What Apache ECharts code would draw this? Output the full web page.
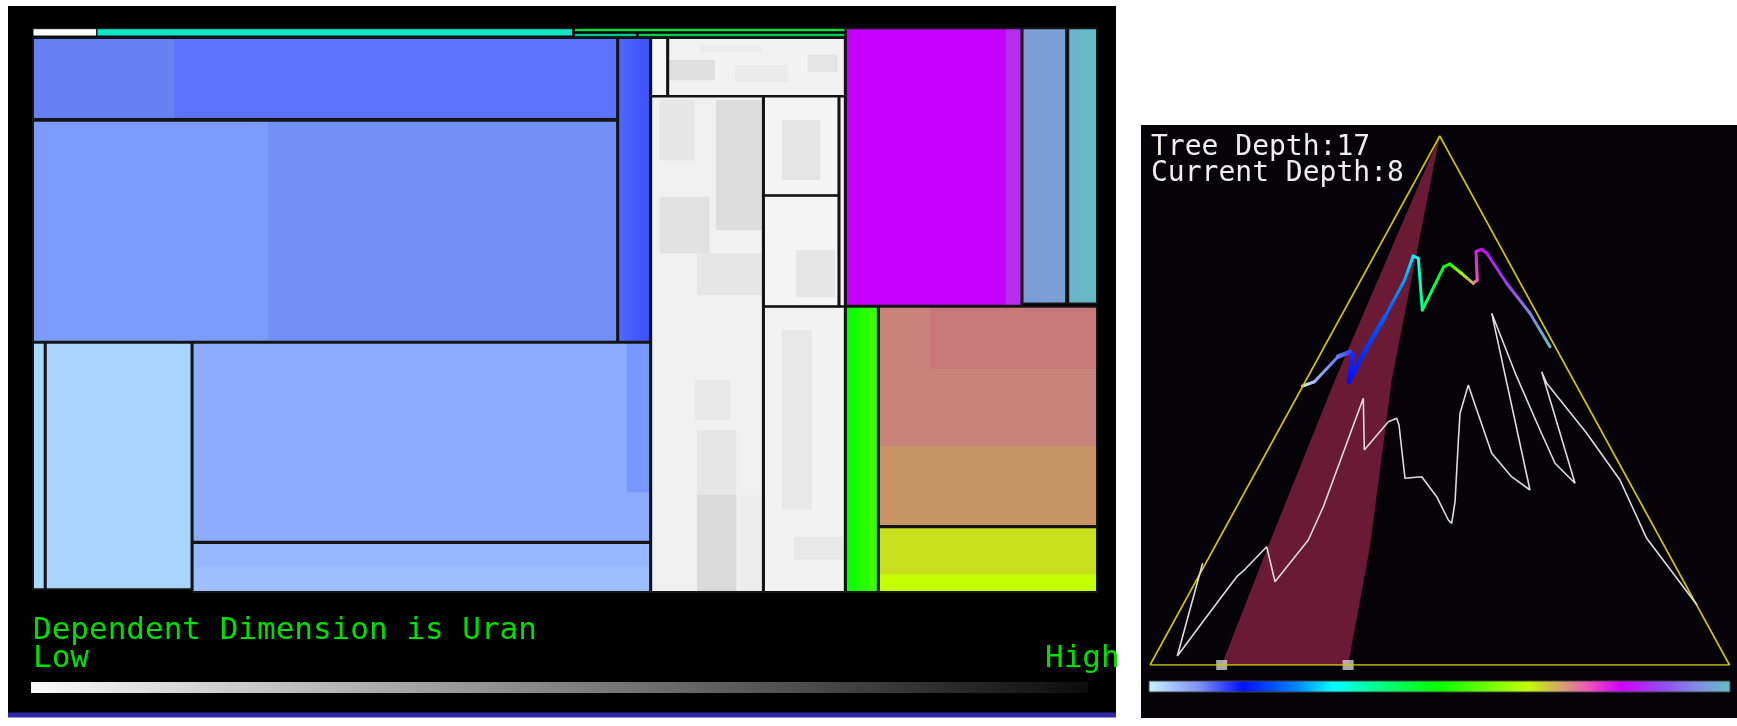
<!DOCTYPE html>
<html>
<head>
<meta charset="utf-8">
<script src="https://cdn.jsdelivr.net/npm/echarts@6/dist/echarts.min.js"></script>
<style>
html, body { margin: 0; padding: 0; background: #ffffff; }
#main { width: 1737px; height: 726px; }
</style>
</head>
<body>
<div id="main"></div>
<script>
// mosaic cells in percent of the mosaic area: [x0, x1, y0, y1]
var cells = [
    [0, 6.0, 0.07, 1.37], [6.0, 50.7, 0.07, 1.37],
    [50.9, 76.3, 0, 0.6], [50.9, 56.7, 0.89, 1.49], [56.9, 76.3, 0.89, 1.49],
    [0, 54.9, 1.7, 16.1], [0, 54.9, 16.4, 55.6], [55.0, 58.0, 1.7, 55.6],
    [0, 1.1, 55.8, 99.5], [1.2, 14.9, 55.8, 99.5],
    [15.0, 58.0, 55.8, 91.1], [15.0, 58.0, 91.3, 100],
    [58.1, 59.6, 1.7, 12.0], [59.7, 76.3, 1.7, 12.0],
    [58.1, 68.6, 12.1, 100],
    [68.7, 75.7, 12.1, 29.6], [68.7, 75.7, 29.7, 49.3], [75.8, 76.3, 12.1, 49.3],
    [68.7, 76.3, 49.4, 100],
    [76.4, 92.9, 0, 49.2], [93.0, 97.1, 0, 48.8], [97.3, 100, 0, 48.8],
    [76.4, 79.4, 49.4, 100], [79.5, 100, 49.4, 88.3], [79.5, 100, 88.5, 100]
];
var cellColors = [
    '#ffffff', '#12e6c6',
    '#00e040', '#00c890', '#00d050',
    '#5b73fe', '#7390f9', '#5068f8>#3c50ff',
    '#a8d8ff', '#a8d4ff',
    '#8cadff', '#96b8ff',
    '#f6f6f6', '#f2f2f2',
    '#f0f0f0',
    '#f4f4f4', '#f4f4f4', '#f4f4f4',
    '#f2f2f2',
    '#c400fc', '#7c9cd8>#7aa2d2', '#6cb4cc>#66bcc8',
    '#00ff00>#44ff00', '#c8847a', '#c8e020'
];
// shading patches inside the cells: [x0, x1, y0, y1]
var patches = [
    [0, 13.3, 1.7, 16.1], [0, 22.1, 16.4, 55.6], [55.8, 58.0, 55.8, 82.3], [15.0, 58.0, 95.6, 100],
    [59.7, 64.1, 5.6, 9.2], [66.0, 71.0, 6.5, 9.5], [72.8, 75.6, 4.7, 7.8], [62.7, 68.5, 3.0, 4.2],
    [58.9, 62.2, 12.7, 23.4], [64.2, 68.5, 12.7, 35.8], [58.9, 63.6, 29.9, 39.9], [62.4, 68.5, 39.9, 47.3],
    [62.2, 65.5, 62.4, 69.5], [62.4, 66.1, 71.3, 82.8], [62.4, 66.1, 82.8, 100], [66.4, 68.5, 82.8, 100],
    [70.4, 74.0, 16.3, 26.9], [71.7, 75.4, 39.3, 47.7], [70.4, 73.2, 53.5, 85.4], [71.5, 76.3, 90.2, 94.3],
    [91.4, 92.9, 0, 49.2], [84.3, 100, 49.4, 60.4], [79.5, 100, 74.2, 88.3], [79.5, 100, 96.9, 100]
];
var patchColors = [
    '#6781f5', '#7b9bfd', '#7896ff', '#9cc0ff',
    '#e0e0e0', '#ebebeb', '#e4e4e4', '#ececec',
    '#e6e6e6', '#dddddd', '#e2e2e2', '#e6e6e6',
    '#e8e8e8', '#e6e6e6', '#dadada', '#ececec',
    '#e4e4e4', '#e6e6e6', '#e8e8e8', '#e8e8e8',
    '#b82cf0', '#c77878', '#c89463', '#c4ff00'
];

// right panel, triangle space: u across the base, v up to the apex
var triangleU = [0, 0.5, 1, 0];
var triangleV = [0, 1, 0, 0];
var wedgeU = [0.1237, 0.2036, 0.3192, 0.5, 0.4171, 0.3796, 0.3419];
var wedgeV = [0, 0.2236, 0.5388, 1, 0.5388, 0.2236, 0];
var sliderU = [0.1237, 0.3419];
var whiteU = [0.0908, 0.0471, 0.1151, 0.1497, 0.1639, 0.2014, 0.2157, 0.2732, 0.2991, 0.3681, 0.3698,
    0.4112, 0.4257, 0.4297, 0.4400, 0.4689, 0.4947, 0.5148, 0.5206, 0.5264, 0.5320, 0.5350, 0.5493,
    0.5580, 0.5897, 0.6239, 0.6557, 0.5897, 0.6011, 0.6328, 0.6730, 0.6989, 0.7334, 0.6759, 0.6846,
    0.7536, 0.8110, 0.8571, 0.9439];
var whiteV = [0.1922, 0.0170, 0.1166, 0.1669, 0.1809, 0.2236, 0.1575, 0.2363, 0.2992, 0.5042, 0.4064,
    0.4599, 0.4664, 0.4537, 0.3529, 0.3560, 0.3181, 0.2741, 0.2678, 0.3087, 0.4221, 0.4758, 0.5293,
    0.5009, 0.4002, 0.3560, 0.3308, 0.6648, 0.6333, 0.5450, 0.4442, 0.3813, 0.3435, 0.5544, 0.5325,
    0.4380, 0.3497, 0.2395, 0.1134];
var hueU = [0.2633, 0.2837, 0.3244, 0.3446, 0.3500, 0.3434, 0.3717, 0.4055, 0.4393, 0.4542, 0.4630,
    0.4699, 0.5070, 0.5172, 0.5375, 0.5579, 0.5647, 0.5626, 0.5712, 0.5815, 0.6154, 0.6557, 0.6903];
var hueV = [0.5274, 0.5355, 0.5828, 0.5917, 0.5860, 0.5355, 0.5955, 0.6584, 0.7278, 0.7732, 0.7688,
    0.6711, 0.7530, 0.7580, 0.7405, 0.7216, 0.7278, 0.7813, 0.7858, 0.7782, 0.7216, 0.6649, 0.6018];
var hueT = [0.0, 0.05, 0.10, 0.13, 0.15, 0.162, 0.19, 0.22, 0.27, 0.31, 0.33,
    0.40, 0.48, 0.52, 0.62, 0.71, 0.76, 0.79, 0.81, 0.83, 0.87, 0.93, 1.0];
var hueStops = [
    [0, '#c8f0ff'], [0.088, '#8090f0'], [0.162, '#0010ff'], [0.25, '#0080ff'], [0.318, '#00ffff'],
    [0.40, '#00ff80'], [0.494, '#00ff00'], [0.65, '#c0ff00'], [0.71, '#d8a070'], [0.758, '#f050c0'],
    [0.812, '#d000ff'], [0.886, '#9050f0'], [0.947, '#8090e0'], [1, '#60c0c8']
];

var lowText = 'Low';
var highText = 'High';
var titleText = 'Dependent Dimension is Uran';
var depthLines = ['Tree Depth:17', 'Current Depth:8'];

function hexRgb(h) {
    return [parseInt(h.substr(1, 2), 16), parseInt(h.substr(3, 2), 16), parseInt(h.substr(5, 2), 16)];
}
function colorAt(t) {
    for (var i = 1; i < hueStops.length; i++) {
        if (t <= hueStops[i][0]) {
            var a = hueStops[i - 1], b = hueStops[i];
            var f = (t - a[0]) / (b[0] - a[0]);
            var ca = hexRgb(a[1]), cb = hexRgb(b[1]);
            return 'rgb(' + ca.map(function (v, k) { return Math.round(v + (cb[k] - v) * f); }).join(',') + ')';
        }
    }
    return hueStops[hueStops.length - 1][1];
}
function fillOf(c, shape) {
    if (c.indexOf('>') < 0) return c;
    var p = c.split('>');
    return new echarts.graphic.LinearGradient(0, 0, 1, 0, [{offset: 0, color: p[0]}, {offset: 1, color: p[1]}]);
}
function rectRender(list, colors, outline) {
    return function (params, api) {
        var c = list[params.dataIndex];
        var a = api.coord([c[0], c[2]]);
        var b = api.coord([c[1], c[3]]);
        var shape = {x: a[0], y: a[1], width: b[0] - a[0], height: b[1] - a[1]};
        if (!outline) {
            return {type: 'rect', shape: shape, style: {fill: fillOf(colors[params.dataIndex])}};
        }
        return {type: 'rect', shape: shape,
            style: {fill: null, stroke: '#141414', lineWidth: shape.height < 10 ? 1 : 2}};
    };
}

var chart = echarts.init(document.getElementById('main'));
var option = {
    animation: false,
    backgroundColor: '#ffffff',
    grid: [
        {left: 33, top: 28.3, width: 1064, height: 563.7},
        {left: 1150, top: 136, width: 579.5, height: 529}
    ],
    xAxis: [
        {type: 'value', gridIndex: 0, min: 0, max: 100, show: false},
        {type: 'value', gridIndex: 1, min: 0, max: 1, show: false}
    ],
    yAxis: [
        {type: 'value', gridIndex: 0, min: 0, max: 100, inverse: true, show: false},
        {type: 'value', gridIndex: 1, min: 0, max: 1, show: false}
    ],
    graphic: [
        {type: 'rect', z: 0, shape: {x: 8, y: 6, width: 1108, height: 707}, style: {fill: '#000000'}},
        {type: 'rect', z: 0, shape: {x: 8, y: 712.5, width: 1108, height: 5}, style: {fill: '#3028a8'}},
        {type: 'rect', z: 0, shape: {x: 1141, y: 125, width: 596, height: 593}, style: {fill: '#050308'}},
        {type: 'rect', z: 1, shape: {x: 31, y: 682, width: 1057, height: 11},
            style: {fill: new echarts.graphic.LinearGradient(0, 0, 1, 0, [
                {offset: 0, color: '#fafafa'}, {offset: 1, color: '#0c0c0c'}])}},
        {type: 'rect', z: 1, shape: {x: 1149, y: 681, width: 581, height: 11},
            style: {stroke: '#404040', lineWidth: 1,
                fill: new echarts.graphic.LinearGradient(0, 0, 1, 0, hueStops.map(function (s) {
                    return {offset: s[0], color: s[1]};
                }))}},
        {type: 'text', z: 10, style: {text: titleText, x: 33, y: 631, fill: '#00e000',
            font: '31px "DejaVu Sans Mono"', textVerticalAlign: 'middle'}},
        {type: 'text', z: 10, style: {text: lowText, x: 33, y: 659, fill: '#00e000',
            font: '31px "DejaVu Sans Mono"', textVerticalAlign: 'middle'}},
        {type: 'text', z: 10, style: {text: highText, x: 1045, y: 659, fill: '#00e000',
            font: '31px "DejaVu Sans Mono"', textVerticalAlign: 'middle'}},
        {type: 'text', z: 10, style: {text: depthLines[0], x: 1151, y: 148, fill: '#eeeeee',
            font: '28px "DejaVu Sans Mono"', textVerticalAlign: 'middle'}},
        {type: 'text', z: 10, style: {text: depthLines[1], x: 1151, y: 174, fill: '#eeeeee',
            font: '28px "DejaVu Sans Mono"', textVerticalAlign: 'middle'}}
    ],
    series: [
        {type: 'custom', xAxisIndex: 0, yAxisIndex: 0, clip: false, data: cells,
            renderItem: rectRender(cells, cellColors, false)},
        {type: 'custom', xAxisIndex: 0, yAxisIndex: 0, clip: false, data: patches,
            renderItem: rectRender(patches, patchColors, false)},
        {type: 'custom', xAxisIndex: 0, yAxisIndex: 0, clip: false, data: cells,
            renderItem: rectRender(cells, cellColors, true)},
        {type: 'custom', xAxisIndex: 1, yAxisIndex: 1, clip: false,
            data: wedgeU.map(function (u, i) { return [u, wedgeV[i]]; }),
            renderItem: function (params, api) {
                if (params.dataIndex !== 0) return;
                var pts = wedgeU.map(function (u, i) { return api.coord([u, wedgeV[i]]); });
                return {type: 'polygon', shape: {points: pts}, style: {fill: '#6a1a34'}};
            }},
        {type: 'line', xAxisIndex: 1, yAxisIndex: 1, symbol: 'none', silent: true,
            data: triangleU.map(function (u, i) { return [u, triangleV[i]]; }),
            lineStyle: {color: '#d4c600', width: 1.6}},
        {type: 'line', xAxisIndex: 1, yAxisIndex: 1, symbol: 'none', silent: true,
            data: whiteU.map(function (u, i) { return [u, whiteV[i]]; }),
            lineStyle: {color: '#dcdcdc', width: 1.6}},
        {type: 'custom', xAxisIndex: 1, yAxisIndex: 1, clip: false,
            data: hueU.map(function (u, i) { return [u, hueV[i], hueT[i]]; }),
            renderItem: function (params, api) {
                var i = params.dataIndex;
                if (i >= hueU.length - 1) return;
                var p0 = api.coord([hueU[i], hueV[i]]);
                var p1 = api.coord([hueU[i + 1], hueV[i + 1]]);
                var mid = (hueT[i] + hueT[i + 1]) / 2;
                return {type: 'line', shape: {x1: p0[0], y1: p0[1], x2: p1[0], y2: p1[1]},
                    style: {lineWidth: (mid > 0.11 && mid < 0.24) ? 4.5 : 3, lineCap: 'round',
                        stroke: new echarts.graphic.LinearGradient(p0[0], p0[1], p1[0] + 0.01, p1[1] + 0.01, [
                            {offset: 0, color: colorAt(hueT[i])},
                            {offset: 1, color: colorAt(hueT[i + 1])}], true)}};
            }},
        {type: 'scatter', xAxisIndex: 1, yAxisIndex: 1, symbol: 'rect', symbolSize: [11, 10],
            silent: true, data: sliderU.map(function (u) { return [u, 0]; }),
            itemStyle: {color: '#d2d2d2'}}
    ]
};
chart.setOption(option);
window.onresize = chart.resize;
</script>
</body>
</html>
